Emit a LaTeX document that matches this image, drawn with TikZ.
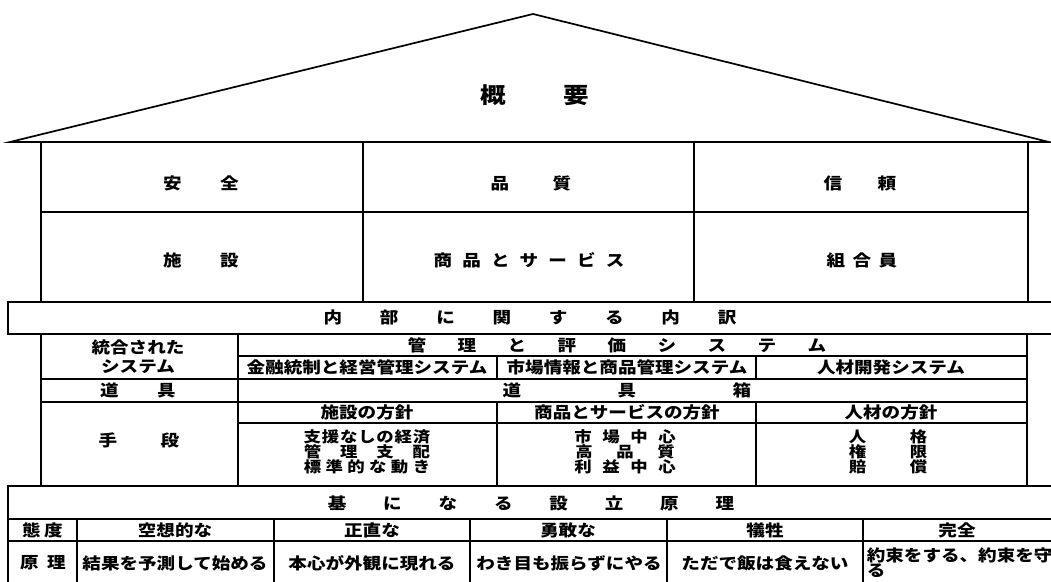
\documentclass[tikz,border=0pt]{standalone}
\usepackage{fontspec}
\newfontfamily\jp[FakeStretch=1.16,BoldFeatures={FakeStretch=1.16}]{Noto Sans CJK JP}
\makeatletter
\newcommand\jspaced[2]{\@tfor\jch:=#2\do{\makebox[#1]{\jch}}}
\makeatother
\begin{document}
\begin{tikzpicture}[x=1pt,y=-1pt,line width=1.7pt,
  txt/.style={inner sep=0pt,font=\jp\bfseries\fontsize{16}{16}\selectfont},
  small/.style={inner sep=0pt,font=\jp\bfseries\fontsize{15}{15}\selectfont}]
\useasboundingbox (0,0) rectangle (1051,581);
% roof
\draw[line join=miter] (10,142) -- (533,14) -- (1049,142) -- cycle;
% upper box
\draw (40.7,142) -- (40.7,302);
\draw (1028,142) -- (1028,302);
\draw (363,142) -- (363,302);
\draw (694,142) -- (694,302);
\draw (40.7,212) -- (1028,212);
% band 1
\draw (1060,302) -- (8,302) -- (8,334) -- (1060,334);
% middle table
\draw (40.7,334) -- (40.7,487);
\draw (1027,334) -- (1027,487);
\draw (238,334) -- (238,487);
\draw (238,356) -- (1027,356);
\draw (40.7,379) -- (1027,379);
\draw (40.7,402) -- (1027,402);
\draw (238,423) -- (1027,423);
\draw (497,356) -- (497,379);
\draw (756,356) -- (756,379);
\draw (497,402) -- (497,487);
\draw (756,402) -- (756,487);
% band 2 and bottom table
\draw (1060,486) -- (8,486) -- (8,590);
\draw (8,519) -- (1060,519);
\draw (8,541) -- (1060,541);
\foreach \x in {77,274,470,667,863} \draw (\x,519) -- (\x,590);
% texts
\node[txt,font=\jp\bfseries\fontsize{22}{22}\selectfont] (gaiyo) at (535,95) {\jspaced{83pt}{概要}};
\node[txt] (anzen) at (201,183) {\jspaced{57pt}{安全}};
\node[txt] (hinshitsu) at (531,183) {\jspaced{62pt}{品質}};
\node[txt] (shinrai) at (860,183) {\jspaced{54pt}{信頼}};
\node[txt] (shisetsu) at (201,260) {\jspaced{57pt}{施設}};
\node[txt] (shohin) at (529,260) {\jspaced{28.7pt}{商品とサービス}};
\node[txt] (kumiai) at (862,260) {\jspaced{26pt}{組合員}};
\node[txt] (naibu) at (530,317) {\jspaced{56.3pt}{内部に関する内訳}};
\node[txt] (togo1) at (138,347) {統合された};
\node[txt] (togo2) at (138,367) {システム};
\node[txt] (kanri) at (617,345) {\jspaced{50pt}{管理と評価システム}};
\node[txt] (kinyu) at (367,367) {金融統制と経営管理システム};
\node[txt] (shijo) at (627,367) {市場情報と商品管理システム};
\node[txt] (jinzai) at (891,367) {人材開発システム};
\node[txt] (dogu) at (138,390) {\jspaced{57pt}{道具}};
\node[txt] (dogubako) at (627,390) {\jspaced{115pt}{道具箱}};
\node[txt] (hoshin1) at (367,412) {施設の方針};
\node[txt] (hoshin2) at (627,412) {商品とサービスの方針};
\node[txt] (hoshin3) at (891,412) {人材の方針};
\node[txt] (shudan) at (139,440) {\jspaced{62pt}{手段}};
\node[small] (a1) at (367,437) {\jspaced{18.2pt}{支援なしの経済}};
\node[small] (a2) at (367,452) {\jspaced{36.3pt}{管理支配}};
\node[small] (a3) at (367,467) {\jspaced{21.8pt}{標準的な動き}};
\node[small] (b1) at (625,437) {\jspaced{28pt}{市場中心}};
\node[small] (b2) at (625,452) {\jspaced{41pt}{高品質}};
\node[small] (b3) at (625,467) {\jspaced{28pt}{利益中心}};
\node[small] (c1) at (888,437) {\jspaced{61pt}{人格}};
\node[small] (c2) at (888,452) {\jspaced{61pt}{権限}};
\node[small] (c3) at (888,467) {\jspaced{61pt}{賠償}};
\node[txt] (kihon) at (531,503) {\jspaced{55.4pt}{基になる設立原理}};
\node[txt] (taido) at (42.5,530) {\jspaced{22pt}{態度}};
\node[txt] (kuso) at (175,530) {空想的な};
\node[txt] (shojiki) at (372,530) {正直な};
\node[txt] (yukan) at (568,530) {勇敢な};
\node[txt] (gisei) at (765,530) {犠牲};
\node[txt] (kanzen) at (957,530) {完全};
\node[txt] (genri) at (43,563) {\jspaced{27pt}{原理}};
\node[txt] (kekka) at (175,563) {結果を予測して始める};
\node[txt] (honshin) at (372,563) {本心が外観に現れる};
\node[txt] (wakime) at (569,563) {わき目も振らずにやる};
\node[txt] (tada) at (765,563) {ただで飯は食えない};
\node[txt,anchor=west] (yaku1) at (866,555) {約束をする、約束を守};
\node[txt,anchor=west] (yaku2) at (866,571) {る};
\end{tikzpicture}
\end{document}
